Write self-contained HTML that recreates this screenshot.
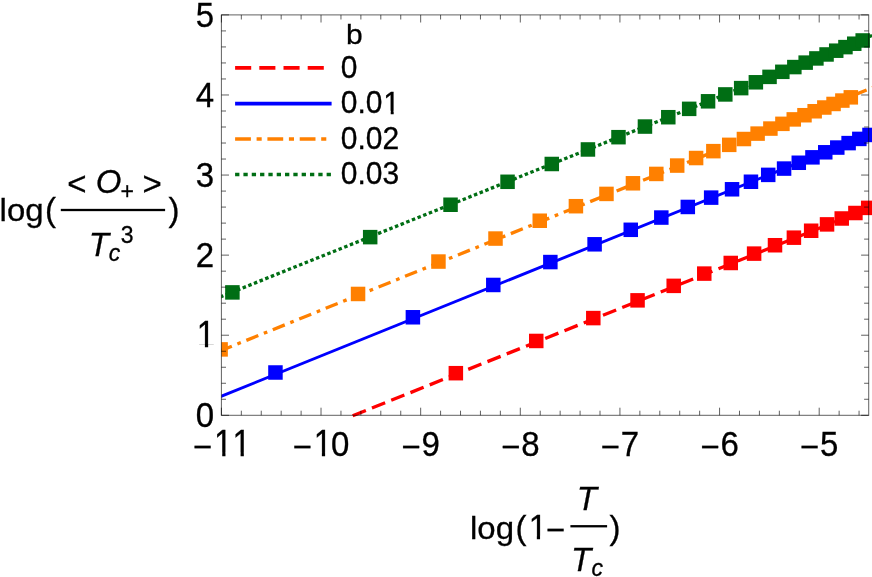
<!DOCTYPE html><html><head><meta charset="utf-8"><title>plot</title>
<style>html,body{margin:0;padding:0;background:#fff;}body{width:872px;height:577px;overflow:hidden;}svg{display:block;}text{font-family:"Liberation Sans",sans-serif;fill:#000;stroke:#000;stroke-width:0.3px;}</style></head><body>
<svg width="872" height="577" viewBox="0 0 872 577">
<rect width="872" height="577" fill="#fff"/>
<defs><clipPath id="cp"><rect x="221.4" y="14.9" width="655.6" height="404.40000000000003"/></clipPath></defs>
<g clip-path="url(#cp)">
<line x1="352.70" y1="415.82" x2="877.00" y2="205.05" stroke="#ff0000" stroke-width="3.3" stroke-dasharray="14.2 6.55"/>
<line x1="215.00" y1="398.83" x2="877.00" y2="131.05" stroke="#0000ff" stroke-width="2.9"/>
<line x1="167.00" y1="372.37" x2="877.00" y2="85.88" stroke="#ff8000" stroke-width="3.3" stroke-dasharray="12.9 5.96 3.7 5.96"/>
<line x1="208.82" y1="301.51" x2="877.00" y2="33.57" stroke="#006e14" stroke-width="3.3" stroke-dasharray="3.5 2.578"/>
<rect x="448.60" y="365.94" width="14.5" height="14.5" fill="#ff0000"/>
<rect x="529.00" y="333.71" width="14.5" height="14.5" fill="#ff0000"/>
<rect x="586.05" y="310.84" width="14.5" height="14.5" fill="#ff0000"/>
<rect x="630.30" y="293.10" width="14.5" height="14.5" fill="#ff0000"/>
<rect x="666.46" y="278.61" width="14.5" height="14.5" fill="#ff0000"/>
<rect x="697.02" y="266.35" width="14.5" height="14.5" fill="#ff0000"/>
<rect x="723.50" y="255.73" width="14.5" height="14.5" fill="#ff0000"/>
<rect x="746.86" y="246.37" width="14.5" height="14.5" fill="#ff0000"/>
<rect x="767.75" y="237.99" width="14.5" height="14.5" fill="#ff0000"/>
<rect x="786.65" y="230.42" width="14.5" height="14.5" fill="#ff0000"/>
<rect x="803.91" y="223.50" width="14.5" height="14.5" fill="#ff0000"/>
<rect x="819.78" y="217.14" width="14.5" height="14.5" fill="#ff0000"/>
<rect x="834.48" y="211.24" width="14.5" height="14.5" fill="#ff0000"/>
<rect x="848.16" y="205.76" width="14.5" height="14.5" fill="#ff0000"/>
<rect x="860.95" y="200.63" width="14.5" height="14.5" fill="#ff0000"/>
<rect x="268.20" y="365.25" width="14.5" height="14.5" fill="#0000ff"/>
<rect x="405.65" y="310.02" width="14.5" height="14.5" fill="#0000ff"/>
<rect x="486.05" y="277.72" width="14.5" height="14.5" fill="#0000ff"/>
<rect x="543.10" y="254.81" width="14.5" height="14.5" fill="#0000ff"/>
<rect x="587.35" y="237.05" width="14.5" height="14.5" fill="#0000ff"/>
<rect x="623.51" y="222.55" width="14.5" height="14.5" fill="#0000ff"/>
<rect x="654.07" y="210.31" width="14.5" height="14.5" fill="#0000ff"/>
<rect x="680.55" y="199.71" width="14.5" height="14.5" fill="#0000ff"/>
<rect x="703.91" y="190.37" width="14.5" height="14.5" fill="#0000ff"/>
<rect x="724.80" y="182.03" width="14.5" height="14.5" fill="#0000ff"/>
<rect x="743.70" y="174.50" width="14.5" height="14.5" fill="#0000ff"/>
<rect x="760.96" y="167.63" width="14.5" height="14.5" fill="#0000ff"/>
<rect x="776.83" y="161.33" width="14.5" height="14.5" fill="#0000ff"/>
<rect x="791.53" y="155.51" width="14.5" height="14.5" fill="#0000ff"/>
<rect x="805.21" y="150.09" width="14.5" height="14.5" fill="#0000ff"/>
<rect x="818.00" y="145.04" width="14.5" height="14.5" fill="#0000ff"/>
<rect x="830.03" y="140.31" width="14.5" height="14.5" fill="#0000ff"/>
<rect x="841.36" y="135.86" width="14.5" height="14.5" fill="#0000ff"/>
<rect x="852.08" y="131.66" width="14.5" height="14.5" fill="#0000ff"/>
<rect x="862.25" y="127.69" width="14.5" height="14.5" fill="#0000ff"/>
<rect x="213.35" y="342.15" width="14.5" height="14.5" fill="#ff8000"/>
<rect x="350.80" y="286.71" width="14.5" height="14.5" fill="#ff8000"/>
<rect x="431.20" y="254.30" width="14.5" height="14.5" fill="#ff8000"/>
<rect x="488.25" y="231.31" width="14.5" height="14.5" fill="#ff8000"/>
<rect x="532.50" y="213.49" width="14.5" height="14.5" fill="#ff8000"/>
<rect x="568.66" y="198.95" width="14.5" height="14.5" fill="#ff8000"/>
<rect x="599.22" y="186.66" width="14.5" height="14.5" fill="#ff8000"/>
<rect x="625.70" y="176.04" width="14.5" height="14.5" fill="#ff8000"/>
<rect x="649.06" y="166.68" width="14.5" height="14.5" fill="#ff8000"/>
<rect x="669.95" y="158.32" width="14.5" height="14.5" fill="#ff8000"/>
<rect x="688.85" y="150.78" width="14.5" height="14.5" fill="#ff8000"/>
<rect x="706.11" y="143.90" width="14.5" height="14.5" fill="#ff8000"/>
<rect x="721.98" y="137.60" width="14.5" height="14.5" fill="#ff8000"/>
<rect x="736.68" y="131.77" width="14.5" height="14.5" fill="#ff8000"/>
<rect x="750.36" y="126.36" width="14.5" height="14.5" fill="#ff8000"/>
<rect x="763.15" y="121.32" width="14.5" height="14.5" fill="#ff8000"/>
<rect x="775.18" y="116.59" width="14.5" height="14.5" fill="#ff8000"/>
<rect x="786.51" y="112.15" width="14.5" height="14.5" fill="#ff8000"/>
<rect x="797.23" y="107.97" width="14.5" height="14.5" fill="#ff8000"/>
<rect x="807.40" y="104.01" width="14.5" height="14.5" fill="#ff8000"/>
<rect x="817.08" y="100.26" width="14.5" height="14.5" fill="#ff8000"/>
<rect x="826.30" y="96.71" width="14.5" height="14.5" fill="#ff8000"/>
<rect x="835.12" y="93.32" width="14.5" height="14.5" fill="#ff8000"/>
<rect x="843.56" y="90.09" width="14.5" height="14.5" fill="#ff8000"/>
<rect x="225.15" y="285.15" width="14.5" height="14.5" fill="#006e14"/>
<rect x="362.93" y="229.88" width="14.5" height="14.5" fill="#006e14"/>
<rect x="443.29" y="197.50" width="14.5" height="14.5" fill="#006e14"/>
<rect x="500.31" y="174.54" width="14.5" height="14.5" fill="#006e14"/>
<rect x="544.54" y="156.74" width="14.5" height="14.5" fill="#006e14"/>
<rect x="580.68" y="142.21" width="14.5" height="14.5" fill="#006e14"/>
<rect x="611.23" y="129.93" width="14.5" height="14.5" fill="#006e14"/>
<rect x="637.70" y="119.31" width="14.5" height="14.5" fill="#006e14"/>
<rect x="661.04" y="109.96" width="14.5" height="14.5" fill="#006e14"/>
<rect x="681.92" y="101.60" width="14.5" height="14.5" fill="#006e14"/>
<rect x="700.81" y="94.06" width="14.5" height="14.5" fill="#006e14"/>
<rect x="718.06" y="87.18" width="14.5" height="14.5" fill="#006e14"/>
<rect x="733.92" y="80.87" width="14.5" height="14.5" fill="#006e14"/>
<rect x="748.61" y="75.04" width="14.5" height="14.5" fill="#006e14"/>
<rect x="762.29" y="69.62" width="14.5" height="14.5" fill="#006e14"/>
<rect x="775.08" y="64.56" width="14.5" height="14.5" fill="#006e14"/>
<rect x="787.09" y="59.83" width="14.5" height="14.5" fill="#006e14"/>
<rect x="798.42" y="55.38" width="14.5" height="14.5" fill="#006e14"/>
<rect x="809.14" y="51.18" width="14.5" height="14.5" fill="#006e14"/>
<rect x="819.30" y="47.21" width="14.5" height="14.5" fill="#006e14"/>
<rect x="828.97" y="43.45" width="14.5" height="14.5" fill="#006e14"/>
<rect x="838.19" y="39.87" width="14.5" height="14.5" fill="#006e14"/>
<rect x="847.00" y="36.47" width="14.5" height="14.5" fill="#006e14"/>
<rect x="855.44" y="33.22" width="14.5" height="14.5" fill="#006e14"/>
</g>
<g stroke="#000" stroke-opacity="0.62" stroke-width="1" fill="none">
<rect x="221.4" y="14.9" width="647.3000000000001" height="400.40000000000003"/>
<path d="M221.40 415.3v-7.6M221.40 14.9v7.6M241.33 415.3v-4.6M241.33 14.9v4.6M261.25 415.3v-4.6M261.25 14.9v4.6M281.18 415.3v-4.6M281.18 14.9v4.6M301.11 415.3v-4.6M301.11 14.9v4.6M321.03 415.3v-7.6M321.03 14.9v7.6M340.96 415.3v-4.6M340.96 14.9v4.6M360.89 415.3v-4.6M360.89 14.9v4.6M380.81 415.3v-4.6M380.81 14.9v4.6M400.74 415.3v-4.6M400.74 14.9v4.6M420.67 415.3v-7.6M420.67 14.9v7.6M440.59 415.3v-4.6M440.59 14.9v4.6M460.52 415.3v-4.6M460.52 14.9v4.6M480.45 415.3v-4.6M480.45 14.9v4.6M500.37 415.3v-4.6M500.37 14.9v4.6M520.30 415.3v-7.6M520.30 14.9v7.6M540.23 415.3v-4.6M540.23 14.9v4.6M560.15 415.3v-4.6M560.15 14.9v4.6M580.08 415.3v-4.6M580.08 14.9v4.6M600.01 415.3v-4.6M600.01 14.9v4.6M619.93 415.3v-7.6M619.93 14.9v7.6M639.86 415.3v-4.6M639.86 14.9v4.6M659.79 415.3v-4.6M659.79 14.9v4.6M679.71 415.3v-4.6M679.71 14.9v4.6M699.64 415.3v-4.6M699.64 14.9v4.6M719.57 415.3v-7.6M719.57 14.9v7.6M739.49 415.3v-4.6M739.49 14.9v4.6M759.42 415.3v-4.6M759.42 14.9v4.6M779.35 415.3v-4.6M779.35 14.9v4.6M799.27 415.3v-4.6M799.27 14.9v4.6M819.20 415.3v-7.6M819.20 14.9v7.6M839.13 415.3v-4.6M839.13 14.9v4.6M859.05 415.3v-4.6M859.05 14.9v4.6M221.4 415.30h7.6M868.7 415.30h-7.6M221.4 399.28h4.6M868.7 399.28h-4.6M221.4 383.27h4.6M868.7 383.27h-4.6M221.4 367.25h4.6M868.7 367.25h-4.6M221.4 351.24h4.6M868.7 351.24h-4.6M221.4 335.22h7.6M868.7 335.22h-7.6M221.4 319.20h4.6M868.7 319.20h-4.6M221.4 303.19h4.6M868.7 303.19h-4.6M221.4 287.17h4.6M868.7 287.17h-4.6M221.4 271.16h4.6M868.7 271.16h-4.6M221.4 255.14h7.6M868.7 255.14h-7.6M221.4 239.12h4.6M868.7 239.12h-4.6M221.4 223.11h4.6M868.7 223.11h-4.6M221.4 207.09h4.6M868.7 207.09h-4.6M221.4 191.08h4.6M868.7 191.08h-4.6M221.4 175.06h7.6M868.7 175.06h-7.6M221.4 159.04h4.6M868.7 159.04h-4.6M221.4 143.03h4.6M868.7 143.03h-4.6M221.4 127.01h4.6M868.7 127.01h-4.6M221.4 111.00h4.6M868.7 111.00h-4.6M221.4 94.98h7.6M868.7 94.98h-7.6M221.4 78.96h4.6M868.7 78.96h-4.6M221.4 62.95h4.6M868.7 62.95h-4.6M221.4 46.93h4.6M868.7 46.93h-4.6M221.4 30.92h4.6M868.7 30.92h-4.6M221.4 14.90h7.6M868.7 14.90h-7.6"/>
</g>
<line x1="235.1" y1="67.9" x2="331.6" y2="67.9" stroke="#ff0000" stroke-width="3.7" stroke-dasharray="16.1 8.1"/>
<line x1="235.1" y1="103.7" x2="331.6" y2="103.7" stroke="#0000ff" stroke-width="3.7"/>
<line x1="235.1" y1="139.0" x2="331.6" y2="139.0" stroke="#ff8000" stroke-width="3.7" stroke-dasharray="15.8 5.7 5.1 5.7"/>
<line x1="235.1" y1="174.5" x2="331.6" y2="174.5" stroke="#006e14" stroke-width="3.7" stroke-dasharray="4.3 4.02"/>
<filter id="gs" x="0" y="0" width="872" height="577" filterUnits="userSpaceOnUse" color-interpolation-filters="sRGB"><feColorMatrix type="saturate" values="0"/></filter>
<g filter="url(#gs)">
<text transform="translate(192.81 458.00) scale(1 1.0)" font-size="33">−</text>
<text transform="translate(214.10 456.00) scale(1 1.0914000000000001)" font-size="33">1</text>
<rect x="214.74" y="452.71" width="7.49" height="5.49" fill="#fff"/>
<rect x="225.47" y="452.71" width="7.15" height="5.49" fill="#fff"/>
<text transform="translate(232.45 456.00) scale(1 1.0914000000000001)" font-size="33">1</text>
<rect x="233.10" y="452.71" width="7.49" height="5.49" fill="#fff"/>
<rect x="243.83" y="452.71" width="7.15" height="5.49" fill="#fff"/>
<text transform="translate(292.44 458.00) scale(1 1.0)" font-size="33">−</text>
<text transform="translate(313.73 456.00) scale(1 1.0914000000000001)" font-size="33">1</text>
<rect x="314.38" y="452.71" width="7.49" height="5.49" fill="#fff"/>
<rect x="325.11" y="452.71" width="7.15" height="5.49" fill="#fff"/>
<text transform="translate(331.07 455.70) scale(1 1.07)" font-size="33">0</text>
<text transform="translate(401.25 458.00) scale(1 1.0)" font-size="33">−</text>
<text transform="translate(421.53 455.70) scale(1 1.07)" font-size="33">9</text>
<text transform="translate(500.89 458.00) scale(1 1.0)" font-size="33">−</text>
<text transform="translate(521.16 455.70) scale(1 1.07)" font-size="33">8</text>
<text transform="translate(600.52 458.00) scale(1 1.0)" font-size="33">−</text>
<text transform="translate(620.79 455.70) scale(1 1.07)" font-size="33">7</text>
<text transform="translate(700.15 458.00) scale(1 1.0)" font-size="33">−</text>
<text transform="translate(720.43 455.70) scale(1 1.07)" font-size="33">6</text>
<text transform="translate(799.79 458.00) scale(1 1.0)" font-size="33">−</text>
<text transform="translate(820.06 455.70) scale(1 1.07)" font-size="33">5</text>
<text transform="translate(195.75 427.25) scale(1 1.07)" font-size="33">0</text>
<text transform="translate(196.76 347.47) scale(1 1.0914000000000001)" font-size="33">1</text>
<rect x="197.41" y="344.18" width="7.49" height="5.49" fill="#fff"/>
<rect x="208.14" y="344.18" width="7.15" height="5.49" fill="#fff"/>
<text transform="translate(195.75 267.09) scale(1 1.07)" font-size="33">2</text>
<text transform="translate(195.75 187.01) scale(1 1.07)" font-size="33">3</text>
<text transform="translate(195.75 106.93) scale(1 1.07)" font-size="33">4</text>
<text transform="translate(195.75 26.85) scale(1 1.07)" font-size="33">5</text>
<text transform="translate(340.70 77.60) scale(1 1.03)" font-size="30">0</text>
<text transform="translate(340.70 113.40) scale(1 1.03)" font-size="30">0.0</text>
<text transform="translate(383.33 113.70) scale(1 1.0506)" font-size="30">1</text>
<rect x="383.91" y="110.75" width="6.81" height="5.15" fill="#fff"/>
<rect x="393.67" y="110.75" width="6.50" height="5.15" fill="#fff"/>
<text transform="translate(340.70 148.70) scale(1 1.03)" font-size="30">0.02</text>
<text transform="translate(340.70 184.20) scale(1 1.03)" font-size="30">0.03</text>
<text transform="translate(346.07 43.90) scale(1 0.95)" font-size="30">b</text>
<text transform="translate(-0.42 221.10) scale(1 0.97)" font-size="33">log</text>
<text transform="translate(44.95 221.10) scale(1 1.0)" font-size="33">(</text>
<text transform="translate(168.41 221.10) scale(1 1.0)" font-size="33">)</text>
<rect x="60.8" y="208.85" width="104.3" height="2.3" fill="#000"/>
<text transform="translate(67.17 194.50) scale(1 1.0)" font-size="33">&lt;</text>
<text transform="translate(95.71 193.30) scale(1 1.0)" font-size="33" font-style="italic">O</text>
<text transform="translate(120.48 198.90) scale(1 1.0)" font-size="23">+</text>
<text transform="translate(142.57 194.50) scale(1 1.0)" font-size="33">&gt;</text>
<text transform="translate(88.64 255.50) scale(1 1.0)" font-size="33" font-style="italic">T</text>
<text transform="translate(108.85 260.60) scale(1 1.0)" font-size="23" font-style="italic">c</text>
<text transform="translate(120.82 242.80) scale(1 1.04)" font-size="23">3</text>
<text transform="translate(469.98 538.90) scale(1 0.97)" font-size="33">log</text>
<text transform="translate(515.45 538.90) scale(1 1.0)" font-size="33">(</text>
<text transform="translate(528.69 539.00) scale(1 1.0506)" font-size="33">1</text>
<rect x="529.33" y="535.81" width="7.49" height="5.39" fill="#fff"/>
<rect x="540.06" y="535.81" width="7.15" height="5.39" fill="#fff"/>
<text transform="translate(545.87 540.60) scale(1 1.0)" font-size="33">−</text>
<rect x="570.4" y="525.1" width="36.7" height="2.3" fill="#000"/>
<text transform="translate(576.74 510.10) scale(1 1.0)" font-size="33" font-style="italic">T</text>
<text transform="translate(571.04 570.90) scale(1 1.0)" font-size="33" font-style="italic">T</text>
<text transform="translate(591.55 576.00) scale(1 1.0)" font-size="23" font-style="italic">c</text>
<text transform="translate(609.41 538.90) scale(1 1.0)" font-size="33">)</text>
</g>
</svg></body></html>
